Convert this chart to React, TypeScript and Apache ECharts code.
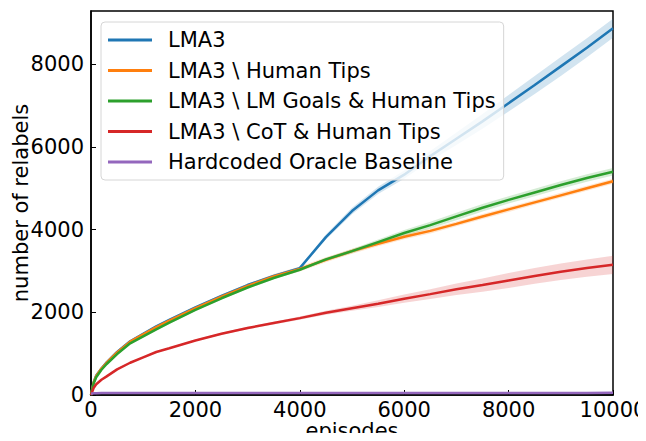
import React, { useEffect, useRef } from "react";
import * as echarts from "echarts";

// Episode grid shared by all runs
const episodes = [0, 50, 100, 200, 300, 500, 750, 1000, 1250, 1500, 2000, 2500, 3000, 3500, 4000, 4500, 5000, 5500, 6000, 6500, 7000, 7500, 8000, 8500, 9000, 9500, 10000];

// Mean number of relabels per method
const lma3 = [0, 310, 470, 640, 790, 1040, 1300, 1480, 1660, 1820, 2120, 2400, 2660, 2880, 3070, 3820, 4450, 4950, 5330, 5780, 6200, 6620, 7060, 7500, 7950, 8400, 8870];
const noHumanTips = [0, 300, 460, 640, 780, 1030, 1290, 1470, 1640, 1800, 2100, 2380, 2640, 2870, 3050, 3270, 3480, 3660, 3830, 3970, 4140, 4320, 4490, 4660, 4830, 5000, 5170];
const noGoalsTips = [0, 280, 430, 610, 750, 990, 1250, 1420, 1590, 1750, 2060, 2340, 2600, 2830, 3030, 3280, 3480, 3700, 3920, 4110, 4320, 4530, 4720, 4900, 5080, 5250, 5400];
const noCotTips = [0, 170, 260, 370, 450, 620, 780, 910, 1040, 1130, 1320, 1480, 1620, 1740, 1860, 1990, 2100, 2210, 2330, 2440, 2560, 2660, 2770, 2880, 2980, 3070, 3150];
const oracle = [30, 40, 45, 50, 50, 50, 50, 50, 50, 50, 50, 50, 50, 50, 50, 50, 50, 50, 50, 50, 50, 50, 50, 50, 50, 50, 55];

// Half-width of the shaded spread around each mean
const lma3Spread = [0, 10, 15, 20, 20, 25, 25, 30, 30, 30, 30, 30, 30, 30, 30, 60, 80, 90, 100, 120, 150, 180, 200, 220, 230, 230, 230];
const noHumanTipsSpread = [0, 10, 15, 20, 20, 25, 30, 30, 30, 40, 40, 50, 50, 60, 60, 60, 60, 60, 60, 60, 60, 60, 60, 60, 60, 60, 60];
const noGoalsTipsSpread = [0, 10, 15, 20, 20, 25, 30, 30, 30, 30, 30, 30, 30, 30, 30, 40, 50, 60, 70, 80, 90, 90, 90, 90, 90, 90, 90];
const noCotTipsSpread = [0, 10, 10, 15, 15, 20, 20, 20, 20, 20, 20, 25, 30, 35, 40, 50, 60, 80, 100, 120, 140, 160, 180, 190, 200, 210, 220];
const oracleSpread = [0, 5, 5, 5, 5, 5, 5, 5, 5, 5, 5, 5, 5, 5, 5, 5, 5, 5, 5, 5, 5, 5, 5, 5, 5, 5, 5];

const names = [
  "LMA3",
  "LMA3 \\ Human Tips",
  "LMA3 \\ LM Goals & Human Tips",
  "LMA3 \\ CoT & Human Tips",
  "Hardcoded Oracle Baseline",
];
const colors = ["#1f77b4", "#ff7f0e", "#2ca02c", "#d62728", "#9467bd"];
const means = [lma3, noHumanTips, noGoalsTips, noCotTips, oracle];
const spreads = [lma3Spread, noHumanTipsSpread, noGoalsTipsSpread, noCotTipsSpread, oracleSpread];

const FONT = "DejaVu Sans";
const FS = 21;

export default function App() {
  const ref = useRef<HTMLDivElement>(null);

  useEffect(() => {
    if (!ref.current) return;
    const chart = echarts.init(ref.current, undefined, { renderer: "svg" });

    // Shaded spread: one polygon per method, upper edge forward then lower edge back
    const bandSeries = means.map((m, i) => ({
      type: "custom",
      name: "_band" + i,
      silent: true,
      z: 1,
      data: [[0, 0]],
      renderItem: (_params: any, api: any) => {
        const upper = episodes.map((x, k) => api.coord([x, m[k] + spreads[i][k]]));
        const lower = episodes.map((x, k) => api.coord([x, m[k] - spreads[i][k]])).reverse();
        return {
          type: "polygon",
          shape: { points: upper.concat(lower) },
          style: { fill: colors[i], opacity: 0.2 },
        };
      },
    }));

    const lineSeries = means.map((m, i) => ({
      type: "line",
      name: names[i],
      symbol: "none",
      z: 2,
      color: colors[i],
      lineStyle: { color: colors[i], width: 2.5 },
      data: episodes.map((x, k) => [x, m[k]]),
    }));

    chart.setOption({
      animation: false,
      backgroundColor: "#ffffff",
      textStyle: { fontFamily: FONT },
      grid: {
        left: 91,
        right: 33,
        top: 11,
        bottom: 46,
        outerBoundsMode: "none",
        containLabel: false,
        show: true,
        borderColor: "#000",
        borderWidth: 1.5,
        backgroundColor: "transparent",
      },
      legend: {
        data: names,
        orient: "vertical",
        left: 101,
        top: 22,
        padding: [7, 8, 7, 7],
        itemGap: 8.5,
        itemWidth: 44,
        itemHeight: 3,
        icon: "rect",
        backgroundColor: "rgba(255,255,255,0.8)",
        borderColor: "#d6d6d6",
        borderWidth: 1,
        borderRadius: 4,
        textStyle: {
          fontFamily: FONT,
          fontSize: FS,
          color: "#000",
          lineHeight: 22,
          padding: [0, 0, 0, 11],
        },
      },
      xAxis: {
        type: "value",
        min: 0,
        max: 10000,
        interval: 2000,
        name: "episodes",
        nameLocation: "middle",
        nameGap: 25,
        nameMoveOverlap: false,
        nameTextStyle: { fontFamily: FONT, fontSize: FS, color: "#000" },
        axisLine: { show: true, lineStyle: { color: "#000", width: 1.5 } },
        axisTick: { show: true, inside: true, length: 5, lineStyle: { color: "#000", width: 1 } },
        axisLabel: {
          fontFamily: FONT,
          fontSize: FS,
          color: "#000",
          margin: 4,
          formatter: (v: number) => String(v),
        },
        splitLine: { show: false },
      },
      yAxis: {
        type: "value",
        min: 0,
        max: 9290,
        interval: 2000,
        name: "number of relabels",
        nameLocation: "middle",
        nameGap: 60,
        nameMoveOverlap: false,
        nameTextStyle: { fontFamily: FONT, fontSize: FS, color: "#000" },
        axisLine: { show: true, lineStyle: { color: "#000", width: 1.5 } },
        axisTick: { show: true, inside: true, length: 5, lineStyle: { color: "#000", width: 1 } },
        axisLabel: {
          fontFamily: FONT,
          fontSize: FS,
          color: "#000",
          margin: 7,
          showMaxLabel: false,
          formatter: (v: number) => (v % 2000 === 0 ? String(v) : ""),
        },
        splitLine: { show: false },
      },
      series: [...bandSeries, ...lineSeries],
    });

    return () => chart.dispose();
  }, []);

  return <div ref={ref} style={{ width: 646, height: 441, margin: -8 }} />;
}
